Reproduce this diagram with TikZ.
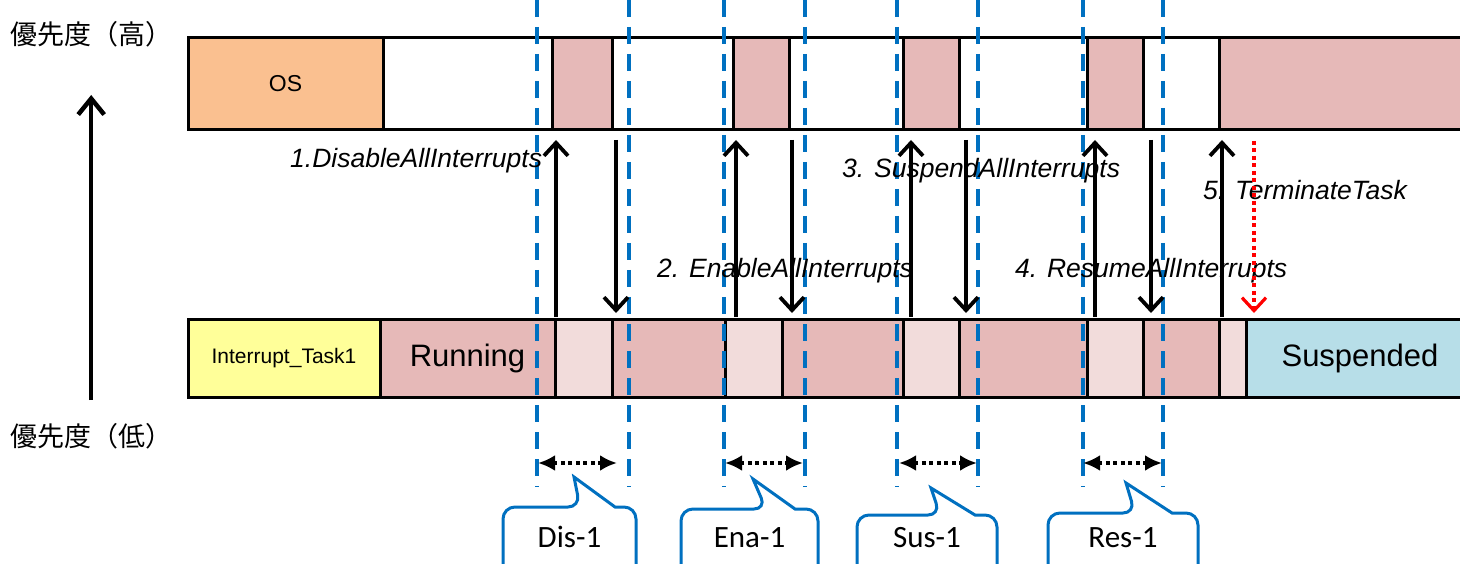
\documentclass[tikz,border=0pt]{standalone}
\usepackage{fontspec}
\setmainfont{Liberation Sans}
\newfontfamily\jpfont{Noto Sans CJK JP}
\newfontfamily\calfont{Carlito}
\usetikzlibrary{arrows.meta}
\definecolor{osorange}{RGB}{250,192,144}
\definecolor{runpink}{RGB}{230,185,184}
\definecolor{lightpink}{RGB}{242,220,219}
\definecolor{taskyellow}{RGB}{255,255,153}
\definecolor{suspblue}{RGB}{183,222,232}
\definecolor{markblue}{RGB}{0,112,192}
\tikzset{
  cell/.style={draw=black,line width=3pt,inner sep=0pt,outer sep=0pt,anchor=west},
  topcell/.style={cell,minimum height=92},
  botcell/.style={cell,minimum height=78},
  vline/.style={draw=markblue,line width=3.5pt,dash pattern=on 17pt off 10pt},
  callarr/.style={line width=3.8pt,-{Straight Barb[length=13pt,width=24pt]}},
  termarr/.style={draw=red,line width=3.2pt,dash pattern=on 4pt off 3.5pt,-{Straight Barb[length=13pt,width=24pt]}},
  spanarr/.style={line width=4pt,dash pattern=on 4pt off 3.5pt,{Latex[length=17pt,width=16pt]}-{Latex[length=17pt,width=16pt]}},
  lbl/.style={font=\fontsize{26.5}{30}\selectfont\itshape,inner sep=0pt,anchor=base west},
  prio/.style={font=\fontsize{27}{30}\jpfont,inner sep=0pt,anchor=west},
  callout/.style={draw=markblue,fill=white,line width=3pt},
  calltxt/.style={font=\fontsize{31}{34}\calfont,inner sep=0pt,anchor=base}
}
\begin{document}
\begin{tikzpicture}[x=1pt,y=-1pt]
\useasboundingbox (0,0) rectangle (1460,564);

% top row
\node[topcell,fill=osorange,minimum width=195,font=\fontsize{23}{26}\selectfont] (os) at (188,84) {OS};
\foreach \n/\a/\b/\c in {tw1/383/552/white,tp1/552/612/runpink,tw2/612/733/white,tp2/733/789/runpink,
    tw3/789/903/white,tp3/903/959/runpink,tw4/959/1087/white,tp4/1087/1143/runpink,
    tw5/1143/1219/white,tp5/1219/1476/runpink}
  \node[topcell,fill=\c,minimum width=\b-\a] (\n) at (\a,84) {};

% bottom row
\node[botcell,fill=taskyellow,minimum width=192,font=\fontsize{21}{24}\selectfont] (task) at (188,358) {Interrupt\_Task1};
\node[botcell,fill=runpink,minimum width=175,font=\fontsize{31}{34}\selectfont] (run) at (380,358) {Running};
\foreach \n/\a/\b/\c in {bl1/555/612/lightpink,bp1/612/725/runpink,bl2/725/782/lightpink,bp2/782/903/runpink,
    bl3/903/959/lightpink,bp3/959/1087/runpink,bl4/1087/1143/lightpink,bp4/1143/1219/runpink,
    bl5/1219/1246/lightpink}
  \node[botcell,fill=\c,minimum width=\b-\a] (\n) at (\a,358) {};
\node[botcell,fill=suspblue,minimum width=228,font=\fontsize{31}{34}\selectfont] (susp) at (1246,358) {Suspended};

% priority axis
\node[prio] (hi) at (10,34) {優先度（高）};
\node[prio] (lo) at (10,436) {優先度（低）};
\draw[line width=4.5pt,-{Straight Barb[length=16pt,width=26pt]},shorten <=36pt,shorten >=61pt] (lo.center) -- (hi.center);

% blue markers
\foreach \x in {537,629,724,805,897,978,1083,1163}
  \draw[vline] (\x,0) -- (\x,487);

% service calls
\node[lbl] (dis) at (290,168) {1.DisableAllInterrupts};
\node[lbl] (ena) at (657,278) {2. EnableAllInterrupts};
\node[lbl] (sus) at (842,178) {3. SuspendAllInterrupts};
\node[lbl] (res) at (1015,278) {4. ResumeAllInterrupts};
\node[lbl] (term) at (1203,200) {5. TerminateTask};

\foreach \x in {556,736,911,1095,1222}
  \draw[callarr,shorten <=2pt,shorten >=10pt] (\x,0 |- run.north) -- (\x,0 |- os.south);
\foreach \x in {616,792,966,1151}
  \draw[callarr,shorten <=10pt,shorten >=6pt] (\x,0 |- os.south) -- (\x,0 |- run.north);
\draw[termarr,shorten <=11pt,shorten >=6pt] (1254,0 |- os.south) -- (1254,0 |- run.north);

% spans
\foreach \a/\b in {538/617,725/803,899/977,1083/1162}
  \draw[spanarr] (\a,463) -- (\b,463);

% callouts
\foreach \l/\r/\t/\px/\py/\bl/\br/\txt in {503/636/507/574/477/580/615/Dis-1,681/818/509/753/479/766/795/Ena-1,
    857/997/515/931/488/940/975/Sus-1,1048/1198/513/1126/483/1135/1172/Res-1}{
  \draw[callout,rounded corners=12pt] (\l,590) -- (\l,\t) -- (\bl,\t) [sharp corners] -- (\px,\py) -- (\br,\t)
    [rounded corners=12pt] -- (\r,\t) -- (\r,590);
  \node[calltxt] (c\txt) at ({(\l+\r)/2},547) {\txt};
}
\end{tikzpicture}
\end{document}
